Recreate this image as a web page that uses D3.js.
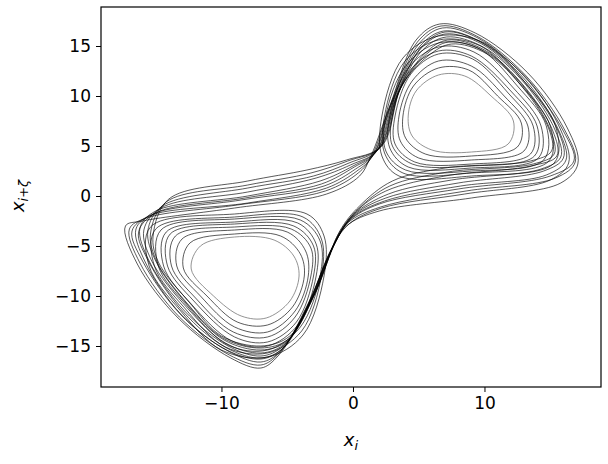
<!DOCTYPE html>
<html><head><meta charset="utf-8">
<script src="https://cdn.jsdelivr.net/npm/d3@7"></script>
<style>body{margin:0;background:#fff}</style></head>
<body><svg id="c" width="608" height="464"></svg>
<script>
const xTicks=[-10,0,10];
const yTicks=[-15,-10,-5,0,5,10,15];
// figure-eight passes (both lobes)
const fig8=[
[[1.5,4],[3,9.5],[5,15.2],[6.8,16.8],[9.5,15.8],[13,12],[16,6.5],[16.8,3.5],[15,2],[8,0.7],[2,-0.8],[-0.3,-2.5],[-1.5,-5],[-3.5,-11],[-5.5,-15.5],[-7,-16.6],[-9.5,-15.5],[-13,-12],[-16,-6.5],[-16.8,-3.5],[-15.5,-2],[-8,-0.7],[-2,0.8],[0.3,2.5]],
[[1.8,4.5],[3.3,10],[5.2,14.8],[7,16.2],[9.8,15.2],[13,11.5],[15.6,6.5],[16,3.8],[14.5,2.5],[8,1.3],[2.5,-0.2],[0,-2],[-1.3,-4.5],[-3.2,-10.5],[-5.3,-15],[-7,-16],[-9.5,-15],[-12.8,-11.5],[-15.5,-6.5],[-16.2,-3.2],[-15,-1.5],[-8,0],[-2.5,1.5],[0,3]],
[[2,4.8],[3.5,10.5],[5.5,14.3],[7.2,15.6],[10,14.6],[13,11],[15.2,6.5],[15.5,4],[13.5,3],[7,2],[2.5,0.5],[0.2,-1.6],[-1.1,-4],[-3,-10],[-5,-14.5],[-7,-15.4],[-9.8,-14.4],[-12.5,-11],[-15,-6.5],[-15.6,-3.5],[-14.5,-1],[-8,0.8],[-3,2],[-0.3,3.3]],
[[1.3,3.8],[2.8,9],[4.8,15.6],[6.6,17.2],[9.3,16.3],[13.3,12.3],[16.3,6.8],[17.1,3.2],[15.8,1.3],[9,-0.2],[2,-1.5],[-0.5,-3],[-1.7,-5.5],[-3.6,-11.5],[-5.7,-16],[-7,-17.2],[-9.3,-16.2],[-13.3,-12.2],[-16.4,-6.8],[-17.3,-3],[-16,-2.5],[-9,-1.2],[-2,0.2],[0.5,2]],
[[2.2,5],[3.7,11],[5.7,14],[7.5,15.2],[10.2,14.2],[13,10.7],[14.9,6.7],[15.1,4.5],[13.5,3.5],[7,2.8],[3,1.5],[0.5,-1],[-1,-3.5],[-2.8,-9.5],[-4.8,-14],[-7,-15],[-10,-14],[-12.4,-10.7],[-14.8,-6.6],[-15.2,-4],[-14,-0.3],[-8,1.5],[-3.5,2.6],[-0.5,3.6]],
[[1.6,4.2],[3.1,9.8],[5.1,15],[6.9,16.5],[9.6,15.5],[13.2,11.8],[15.8,6.6],[16.4,3.3],[15,1.6],[8.5,0.2],[2.2,-1.2],[-0.3,-2.8],[-1.6,-5.2],[-3.4,-10.8],[-5.4,-15.3],[-7,-16.3],[-9.6,-15.4],[-13.1,-11.8],[-15.8,-6.6],[-16.5,-3.3],[-15.2,-1.8],[-8.5,-0.4],[-2.2,1],[0.2,2.7]],
[[1.9,4.6],[3.4,10.2],[5.3,14.6],[7.1,15.9],[9.9,14.9],[13.1,11.2],[15.4,6.5],[15.8,3.9],[14.3,2.7],[7.5,1.6],[2.7,0.2],[0.1,-1.8],[-1.2,-4.2],[-3.1,-10.2],[-5.1,-14.7],[-7,-15.7],[-9.7,-14.7],[-12.6,-11.2],[-15.3,-6.5],[-15.9,-3.4],[-14.6,-1.2],[-8,0.4],[-2.8,1.8],[-0.2,3.1]],
[[1.4,3.9],[2.9,9.3],[4.9,15.4],[6.7,17],[9.4,16],[13.1,12.1],[16.1,6.6],[16.9,3.4],[15.4,1.8],[8.6,0.5],[2.1,-1.1],[-0.4,-2.7],[-1.6,-5.3],[-3.5,-11.2],[-5.6,-15.7],[-7,-16.9],[-9.4,-15.9],[-13.2,-12.1],[-16.2,-6.7],[-17,-3.3],[-15.7,-2.2],[-8.8,-0.9],[-2.1,0.5],[0.4,2.3]],
[[1.7,4.3],[3.2,9.9],[5.2,14.9],[7,16.4],[9.7,15.4],[13.1,11.6],[15.7,6.4],[16.2,3.6],[14.7,2.1],[8.2,1],[2.4,-0.5],[-0.1,-2.2],[-1.4,-4.8],[-3.3,-10.7],[-5.3,-15.2],[-7,-16.2],[-9.6,-15.2],[-12.9,-11.6],[-15.6,-6.4],[-16.3,-3.6],[-15,-1.7],[-8.2,-0.2],[-2.4,1.2],[0.1,2.9]],
[[2.1,4.9],[3.6,10.7],[5.6,14.2],[7.3,15.4],[10.1,14.4],[13,10.9],[15,6.6],[15.3,4.2],[13.7,3.2],[7.2,2.4],[2.8,1],[0.4,-1.3],[-1.1,-3.8],[-2.9,-9.8],[-4.9,-14.3],[-7,-15.2],[-9.9,-14.2],[-12.5,-10.9],[-14.9,-6.6],[-15.4,-3.8],[-14.2,-0.6],[-8,1.1],[-3.2,2.3],[-0.4,3.5]]
];
const rightLoops=[
[[4.2,8],[4.8,10.5],[6.5,12.1],[8.5,12],[10.5,10],[12.2,7.5],[11.8,5.2],[9,4.4],[6,4.6],[4.5,6]],
[[3.5,8],[4.5,11.5],[6.5,13.5],[9,13],[11.5,10],[13.3,7],[13,4.5],[9,3.6],[5,3.8],[3.6,5.5]],
[[3,8],[4.3,12.5],[6.5,14.5],[9,14],[12,10.5],[14,7],[13.8,4],[9,3],[4.5,3.2],[3,5]],
[[2.5,8],[4,13],[6.5,15.3],[9.5,14.8],[12.5,11],[14.7,7],[14.5,3.6],[9,2.5],[4,2.6],[2.5,4.5]],
[[2.2,8],[3.8,13.8],[6.5,16],[10,15.3],[13,11.5],[15.4,7],[15.3,3.3],[9,2],[3.5,2],[2.2,4]],
[[2.8,8],[4.2,12.8],[6.5,14.9],[9.2,14.4],[12.2,10.8],[14.3,7],[14.1,3.8],[9,2.8],[4.2,2.9],[2.8,4.8]],
[[3.8,8],[4.6,11],[6.5,12.8],[8.8,12.6],[11,10],[12.8,7.3],[12.5,4.9],[9,4],[5.5,4.2],[4,5.8]],
[[3.2,8],[4.4,12.2],[6.5,14.2],[9.1,13.7],[11.8,10.3],[13.7,7],[13.5,4.2],[9,3.2],[4.7,3.4],[3.2,5.2]],
[[2.4,8],[3.9,13.4],[6.5,15.6],[9.7,15],[12.7,11.2],[15,7],[14.9,3.5],[9,2.3],[3.8,2.3],[2.4,4.3]]
];
const leftLoops=[
[[-4.1,-8],[-4.8,-10.5],[-6.6,-12.2],[-8.5,-12],[-10.6,-10],[-12.3,-7.3],[-11.6,-5],[-9,-4.1],[-6,-4.4],[-4.5,-6]],
[[-3.4,-8],[-4.4,-11.5],[-6.5,-13.6],[-9,-13.1],[-11.6,-10],[-13.4,-7],[-13,-4.3],[-9,-3.4],[-5,-3.6],[-3.6,-5.5]],
[[-3,-8],[-4.3,-12.6],[-6.5,-14.6],[-9,-14.1],[-12.1,-10.5],[-14.1,-7],[-13.9,-3.8],[-9,-2.8],[-4.5,-3],[-3,-5]],
[[-2.5,-8],[-4,-13.1],[-6.5,-15.4],[-9.5,-14.9],[-12.6,-11],[-14.8,-7],[-14.6,-3.4],[-9,-2.3],[-4,-2.4],[-2.5,-4.5]],
[[-2.2,-8],[-3.8,-13.9],[-6.5,-16.1],[-10,-15.4],[-13.1,-11.5],[-15.5,-7],[-15.4,-3.1],[-9,-1.8],[-3.5,-1.8],[-2.2,-4]],
[[-2.8,-8],[-4.2,-12.9],[-6.5,-15],[-9.2,-14.5],[-12.3,-10.8],[-14.4,-7],[-14.2,-3.6],[-9,-2.6],[-4.2,-2.7],[-2.8,-4.8]],
[[-3.7,-8],[-4.6,-11.1],[-6.5,-12.9],[-8.8,-12.6],[-11.1,-10],[-12.9,-7.2],[-12.4,-4.7],[-9,-3.8],[-5.5,-4],[-4,-5.8]],
[[-3.2,-8],[-4.4,-12.1],[-6.5,-14.1],[-9.1,-13.6],[-11.9,-10.3],[-13.8,-7],[-13.5,-4],[-9,-3.1],[-4.7,-3.3],[-3.2,-5.2]],
[[-2.4,-8],[-3.9,-13.5],[-6.5,-15.7],[-9.7,-15.1],[-12.8,-11.2],[-15.1,-7],[-15,-3.3],[-9,-2.1],[-3.8,-2.1],[-2.4,-4.3]]
];
const grayLoops=[0];

const svg=d3.select("#c");
const m={l:101,r:601,t:7,b:387};
const x=d3.scaleLinear().domain([-19.16,18.86]).range([m.l,m.r]);
const y=d3.scaleLinear().domain([-19.1,18.9]).range([m.b,m.t]);
const font="DejaVu Sans";
const g=svg.append("g");
const closed=d3.line().x(d=>x(d[0])).y(d=>y(d[1])).curve(d3.curveCatmullRomClosed.alpha(0.5));
function draw(arr,grayIdx){
  arr.forEach((p,i)=>{
    const gray=grayIdx.includes(i);
    g.append("path").attr("d",closed(p)).attr("fill","none")
     .attr("stroke",gray?"#777":"#000").attr("stroke-width",gray?0.8:0.65);
  });
}
draw(fig8,[]);draw(rightLoops,grayLoops);draw(leftLoops,grayLoops);

svg.append("rect").attr("x",m.l).attr("y",m.t).attr("width",m.r-m.l).attr("height",m.b-m.t)
 .attr("fill","none").attr("stroke","#000").attr("stroke-width",1.2);
const xa=svg.append("g").attr("transform",`translate(0,${m.b})`)
 .call(d3.axisBottom(x).tickValues(xTicks).tickSize(5).tickPadding(5).tickFormat(d=>d<0?"\u2212"+(-d):d));
const ya=svg.append("g").attr("transform",`translate(${m.l},0)`)
 .call(d3.axisLeft(y).tickValues(yTicks).tickSize(5).tickPadding(5).tickFormat(d=>d<0?"\u2212"+(-d):d));
[xa,ya].forEach(a=>{a.select(".domain").remove();a.selectAll("line").attr("stroke","#000").attr("stroke-width",1);
 a.selectAll("text").attr("font-family",font).attr("font-size",17).attr("fill","#000");});
const xl=svg.append("text").attr("x",(m.l+m.r)/2).attr("y",446).attr("text-anchor","middle")
 .attr("font-family",font).attr("font-size",18);
xl.append("tspan").attr("font-style","italic").text("x");
xl.append("tspan").attr("font-style","italic").attr("font-size",13).attr("dy",4).text("i");
const yl=svg.append("text").attr("transform","translate(24,196) rotate(-90)").attr("text-anchor","middle")
 .attr("font-family",font).attr("font-size",18);
yl.append("tspan").attr("font-style","italic").text("x");
yl.append("tspan").attr("font-style","italic").attr("font-size",13).attr("dy",4).text("i+ζ");
</script></body></html>
